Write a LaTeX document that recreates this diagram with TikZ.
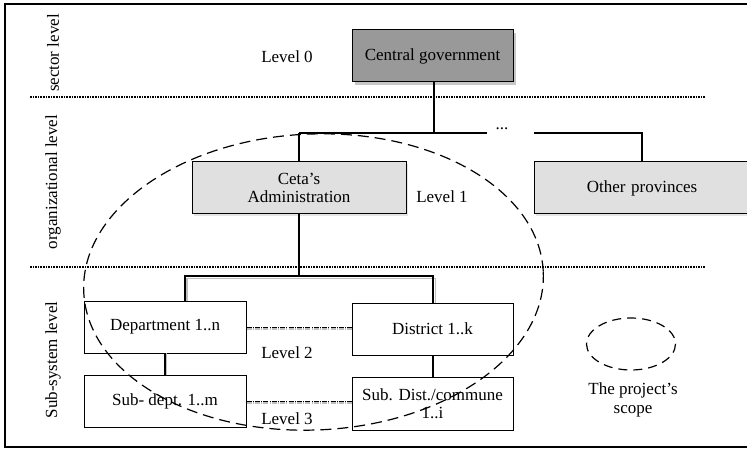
\documentclass[tikz,border=0pt]{standalone}
\usepackage{fontspec}
\setmainfont{Liberation Serif}
\begin{document}
\begin{tikzpicture}[x=1pt,y=-1pt,
  every node/.style={font=\fontsize{17}{18.5}\selectfont},
  box/.style={draw=black,line width=1pt,rectangle,inner sep=0pt,align=center},
  darkbox/.style={box,fill=black!40},
  lightbox/.style={box,fill=black!12},
  whitebox/.style={box,fill=white},
  conn/.style={line width=1.1pt},
  shadowline/.style={line width=1.2pt,black!25},
  sep/.style={line width=1.1pt,dash pattern=on 1.6pt off 1pt},
  linkdd/.style={line width=0.6pt,dash pattern=on 5pt off 1.2pt on 1pt off 1.2pt},
  scope/.style={line width=1.2pt,dash pattern=on 11pt off 6pt},
  vlabel/.style={rotate=90}]
\useasboundingbox (0,0) rectangle (747,449);
\clip (0,0) rectangle (747,449);
% frame
\draw[line width=1.5pt] (760,4) -- (5,4) -- (5,447) -- (760,447);
% separators
\draw[sep] (30,97) -- (705,97);
\draw[sep] (30,267) -- (705,267);
% side labels
\node[vlabel] (lsector) at (53,53) {sector level};
\node[vlabel] (lorg) at (53,182) {organizational level};
\node[vlabel] (lsub) at (53,360) {Sub-system level};
% shadows
\fill[black!22] (355,33) rectangle (516,85);
\fill[black!10] (194,164) rectangle (408,216);
\fill[black!10] (536,164) rectangle (760,216);
% boxes
\node[darkbox,minimum width=161pt,minimum height=52pt] (central) at (432.5,56) {Central government};
\node[lightbox,minimum width=214pt,minimum height=52pt] (ceta) at (299,188) {Ceta’s\\Administration};
\node[lightbox,minimum width=226pt,minimum height=52pt,text width=200pt] (other) at (647,188) {\hspace*{-10pt}Other provinces\hspace*{10pt}};
\node[whitebox,minimum width=162pt,minimum height=52pt] (dept) at (165,327) {Department 1..n};
\node[whitebox,minimum width=161pt,minimum height=52pt] (dist) at (432.5,329) {District 1..k};
\node[whitebox,minimum width=162pt,minimum height=52pt] (subdept) at (165,401) {Sub- dept. 1..m};
\node[whitebox,minimum width=161pt,minimum height=53pt] (subdist) at (432.5,403.5) {Sub. Dist./commune\\1..i};
% level labels
\node (l0) at (287,57) {Level 0};
\node (l1) at (442,197) {Level 1};
\node (l2) at (287,353) {Level 2};
\node (l3) at (287,419) {Level 3};
\node (dots) at (502,129) {...};
% connectors top
\coordinate (j0) at (434,133);
\coordinate (jl) at (299,133);
\coordinate (jr) at (487,133);
\coordinate (ka) at (534,133);
\coordinate (kb) at (642,133);
\draw[conn] (central.south -| j0) -- (j0);
\draw[conn] (jl) -- (jr);
\draw[conn] (jl) -- (ceta.north);
\draw[conn] (ka) -- (kb) -- (other.north -| kb);
% connectors to level 2
\coordinate (m0) at (299,276);
\coordinate (ml) at (185,276);
\coordinate (mr) at (433,276);
\draw[shadowline] (187,301) -- (187,278.5) -- (435.5,278.5) -- (435.5,303);
\draw[conn] (ceta.south) -- (m0);
\draw[conn] (dept.north -| ml) -- (ml) -- (mr) -- (dist.north -| mr);
\draw[shadowline] (166.5,353) -- (166.5,375);
\draw[conn] (dept.south) -- (subdept.north);
\draw[conn] (dist.south -| mr) -- (subdist.north -| mr);
% dash-dot links
\draw[linkdd,black!25,line width=1.2pt] ([yshift=-2pt]dept.east) -- ([yshift=-2pt]dist.west |- dept.east);
\draw[linkdd] (dept.east) -- (dist.west |- dept.east);
\draw[linkdd,black!25,line width=1.2pt] ([yshift=-2pt]subdept.east) -- ([yshift=-2pt]subdist.west |- subdept.east);
\draw[linkdd] (subdept.east) -- (subdist.west |- subdept.east);
% scopes
\draw[scope] (313.5,282) [rotate around={2.5:(313.5,282)}] ellipse [x radius=230, y radius=148];
\draw[scope,dash pattern=on 9pt off 6pt] (631,344) ellipse [x radius=44.5, y radius=26];
\node[align=center] (scopelbl) at (633,400) {The project’s\\scope};
\end{tikzpicture}
\end{document}
